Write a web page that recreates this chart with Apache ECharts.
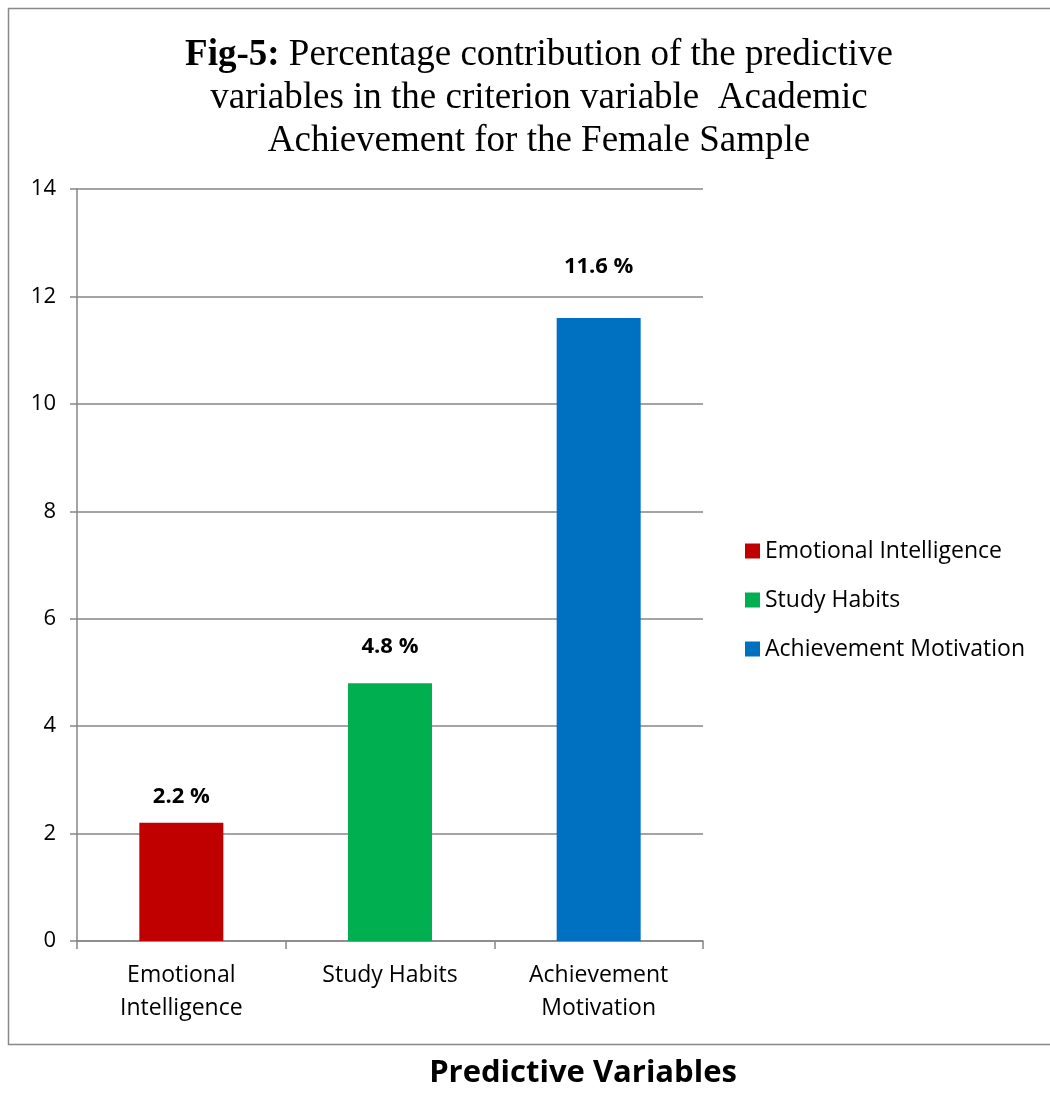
<!DOCTYPE html>
<html>
<head>
<meta charset="utf-8">
<script src="https://cdn.jsdelivr.net/npm/echarts@6/dist/echarts.min.js"></script>
<style>
  html, body { margin: 0; padding: 0; background: #fff; }
  #chart { width: 1050px; height: 1120px; }
</style>
</head>
<body>
<div id="chart"></div>
<script>
  // data
  var categories = ['Emotional\nIntelligence', 'Study Habits', 'Achievement\nMotivation']
  var seriesNames = ['Emotional Intelligence', 'Study Habits', 'Achievement Motivation']
  var values = [2.2, 4.8, 11.6]
  var yTicks = [0, 2, 4, 6, 8, 10, 12, 14]

  // styling
  var colors = ['#C00000', '#00B050', '#0070C0']
  var labelDistances = [15, 25, 40] // labels were hand-placed in the original
  var sansFont = 'Open Sans'
  var axisGray = '#868686'

  var myChart = echarts.init(document.getElementById('chart'))

  // one series per variable so the legend gets three entries
  var series = seriesNames.map(function (name, i) {
    var data = values.map(function (v, j) { return j === i ? v : null })
    return {
      name: name,
      type: 'bar',
      data: data,
      barWidth: 84,
      barGap: '-100%',
      itemStyle: { color: colors[i] },
      label: {
        show: true,
        position: 'top',
        distance: labelDistances[i],
        formatter: '{c} %',
        fontFamily: sansFont,
        fontWeight: 'bold',
        fontSize: 22,
        color: '#000'
      }
    }
  })

  var option = {
    animation: false,
    color: colors,
    title: {
      text: '{b|Fig-5:} Percentage contribution of the predictive\nvariables in the criterion variable  Academic\nAchievement for the Female Sample',
      left: 534,
      top: 29,
      textAlign: 'center',
      textStyle: {
        fontFamily: 'Liberation Serif',
        fontSize: 37,
        fontWeight: 'normal',
        color: '#000',
        lineHeight: 43,
        rich: {
          b: { fontFamily: 'Liberation Serif', fontSize: 37, fontWeight: 'bold', color: '#000', lineHeight: 43 }
        }
      }
    },
    legend: {
      orient: 'vertical',
      left: 740,
      top: 532,
      itemWidth: 15,
      itemHeight: 15,
      itemGap: 21,
      icon: 'rect',
      textStyle: { fontFamily: sansFont, fontSize: 23, color: '#000', lineHeight: 28 },
      data: seriesNames
    },
    grid: { left: 77, right: 347, top: 189, bottom: 179 },
    xAxis: {
      type: 'category',
      data: categories,
      axisLine: { lineStyle: { color: axisGray, width: 1.5 } },
      axisTick: { show: true, length: 8, lineStyle: { color: axisGray, width: 1.5 } },
      axisLabel: {
        fontFamily: sansFont,
        fontSize: 23,
        color: '#000',
        margin: 18,
        lineHeight: 33,
        interval: 0
      }
    },
    yAxis: {
      type: 'value',
      min: yTicks[0],
      max: yTicks[yTicks.length - 1],
      interval: 2,
      axisLine: { show: true, lineStyle: { color: axisGray, width: 1.5 } },
      axisTick: { show: true, length: 7, lineStyle: { color: axisGray, width: 1.5 } },
      splitLine: { lineStyle: { color: axisGray, width: 1.5 } },
      axisLabel: { fontFamily: sansFont, fontSize: 22, color: '#000', margin: 21 }
    },
    graphic: [
      {
        type: 'rect',
        shape: { x: 8.5, y: 8.5, width: 1050, height: 1036 },
        style: { fill: null, stroke: '#888', lineWidth: 1.5 },
        z: -1
      },
      {
        type: 'text',
        x: 583,
        y: 1073,
        style: {
          text: 'Predictive Variables',
          font: 'bold 31px "Open Sans"',
          fill: '#000',
          align: 'center',
          verticalAlign: 'middle'
        }
      }
    ],
    series: series
  }

  myChart.setOption(option)
</script>
</body>
</html>
